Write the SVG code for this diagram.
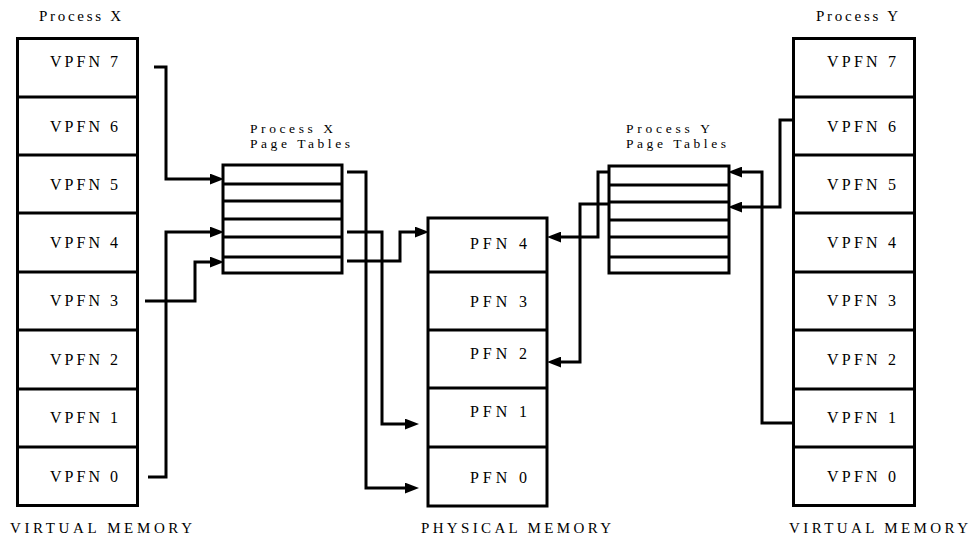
<svg xmlns="http://www.w3.org/2000/svg" width="971" height="540" viewBox="0 0 971 540">
<style>
  .box { fill: #fff; stroke: #000; stroke-width: 3; }
  .div { stroke: #000; stroke-width: 3; fill: none; }
  .conn { stroke: #000; stroke-width: 3; fill: none; stroke-linejoin: miter; }
  text { font-family: "Liberation Serif", "Times New Roman", serif; fill: #000; }
  .cell { font-size: 16px; }
  .title { font-size: 15px; }
  .pt { font-size: 13.5px; }
  .label { font-size: 15px; }
</style>
<defs>
  <marker id="ah" markerUnits="userSpaceOnUse" markerWidth="14" markerHeight="11" refX="0" refY="5" orient="auto" viewBox="0 0 13 10">
    <path d="M0,0 L13,5 L0,10 Z" fill="#000"/>
  </marker>
</defs>
<rect width="971" height="540" fill="#fff"/>

<g id="virtual-x">
  <text class="title" x="39" y="21" textLength="82" lengthAdjust="spacing">Process X</text>
  <rect class="box" x="17.5" y="38.5" width="120" height="467"/>
  <path class="div" d="M17 97H137M17 155H137M17 213H137M17 272H137M17 330H137M17 389H137M17 447H137"/>
  <text class="cell" x="50" y="67" textLength="68" lengthAdjust="spacing">VPFN 7</text>
  <text class="cell" x="50" y="132" textLength="68" lengthAdjust="spacing">VPFN 6</text>
  <text class="cell" x="50" y="190" textLength="68" lengthAdjust="spacing">VPFN 5</text>
  <text class="cell" x="50" y="248" textLength="68" lengthAdjust="spacing">VPFN 4</text>
  <text class="cell" x="50" y="306" textLength="68" lengthAdjust="spacing">VPFN 3</text>
  <text class="cell" x="50" y="365" textLength="68" lengthAdjust="spacing">VPFN 2</text>
  <text class="cell" x="50" y="423" textLength="68" lengthAdjust="spacing">VPFN 1</text>
  <text class="cell" x="50" y="482" textLength="68" lengthAdjust="spacing">VPFN 0</text>
  <text class="label" x="10" y="533" textLength="182" lengthAdjust="spacing">VIRTUAL MEMORY</text>
</g>

<g id="pagetable-x">
  <text class="pt" x="250" y="133" textLength="83" lengthAdjust="spacing">Process X</text>
  <text class="pt" x="250" y="148" textLength="100" lengthAdjust="spacing">Page Tables</text>
  <rect class="box" x="223" y="165" width="119" height="108"/>
  <path class="div" d="M223 184H342M223 201H342M223 219H342M223 237H342M223 257H342"/>
</g>

<g id="physical">
  <rect class="box" x="428" y="218" width="119" height="288"/>
  <path class="div" d="M428 272H547M428 330H547M428 388H547M428 447H547"/>
  <text class="cell" x="470" y="249" textLength="57" lengthAdjust="spacing">PFN 4</text>
  <text class="cell" x="470" y="307" textLength="57" lengthAdjust="spacing">PFN 3</text>
  <text class="cell" x="470" y="359" textLength="57" lengthAdjust="spacing">PFN 2</text>
  <text class="cell" x="470" y="417" textLength="57" lengthAdjust="spacing">PFN 1</text>
  <text class="cell" x="470" y="483" textLength="57" lengthAdjust="spacing">PFN 0</text>
  <text class="label" x="421" y="533" textLength="190" lengthAdjust="spacing">PHYSICAL MEMORY</text>
</g>

<g id="pagetable-y">
  <text class="pt" x="626" y="133" textLength="84" lengthAdjust="spacing">Process Y</text>
  <text class="pt" x="626" y="148" textLength="100" lengthAdjust="spacing">Page Tables</text>
  <rect class="box" x="609" y="166" width="120" height="107"/>
  <path class="div" d="M609 185H729M609 202H729M609 220H729M609 237H729M609 257H729"/>
</g>

<g id="virtual-y">
  <text class="title" x="816" y="21" textLength="82" lengthAdjust="spacing">Process Y</text>
  <rect class="box" x="793.5" y="38.5" width="121" height="467"/>
  <path class="div" d="M793 97H914M793 155H914M793 213H914M793 272H914M793 330H914M793 389H914M793 447H914"/>
  <text class="cell" x="827" y="67" textLength="69" lengthAdjust="spacing">VPFN 7</text>
  <text class="cell" x="827" y="132" textLength="69" lengthAdjust="spacing">VPFN 6</text>
  <text class="cell" x="827" y="190" textLength="69" lengthAdjust="spacing">VPFN 5</text>
  <text class="cell" x="827" y="248" textLength="69" lengthAdjust="spacing">VPFN 4</text>
  <text class="cell" x="827" y="306" textLength="69" lengthAdjust="spacing">VPFN 3</text>
  <text class="cell" x="827" y="365" textLength="69" lengthAdjust="spacing">VPFN 2</text>
  <text class="cell" x="827" y="423" textLength="69" lengthAdjust="spacing">VPFN 1</text>
  <text class="cell" x="827" y="482" textLength="69" lengthAdjust="spacing">VPFN 0</text>
  <text class="label" x="789" y="533" textLength="179" lengthAdjust="spacing">VIRTUAL MEMORY</text>
</g>

<g id="connectors">
  <path class="conn" marker-end="url(#ah)" d="M154 67H166V179H210"/>
  <path class="conn" marker-end="url(#ah)" d="M148 477H166V232H210"/>
  <path class="conn" marker-end="url(#ah)" d="M145 301H195V262H210"/>
  <path class="conn" marker-end="url(#ah)" d="M347 172H366V488H405"/>
  <path class="conn" marker-end="url(#ah)" d="M347 232H382V424H405"/>
  <path class="conn" marker-end="url(#ah)" d="M347 261H400V232H415"/>
  <path class="conn" marker-end="url(#ah)" d="M609 172H598V237H561"/>
  <path class="conn" marker-end="url(#ah)" d="M609 204H580V362H561"/>
  <path class="conn" marker-end="url(#ah)" d="M792 423H762V172H742"/>
  <path class="conn" marker-end="url(#ah)" d="M792 120H780V207H742"/>
</g>
</svg>
